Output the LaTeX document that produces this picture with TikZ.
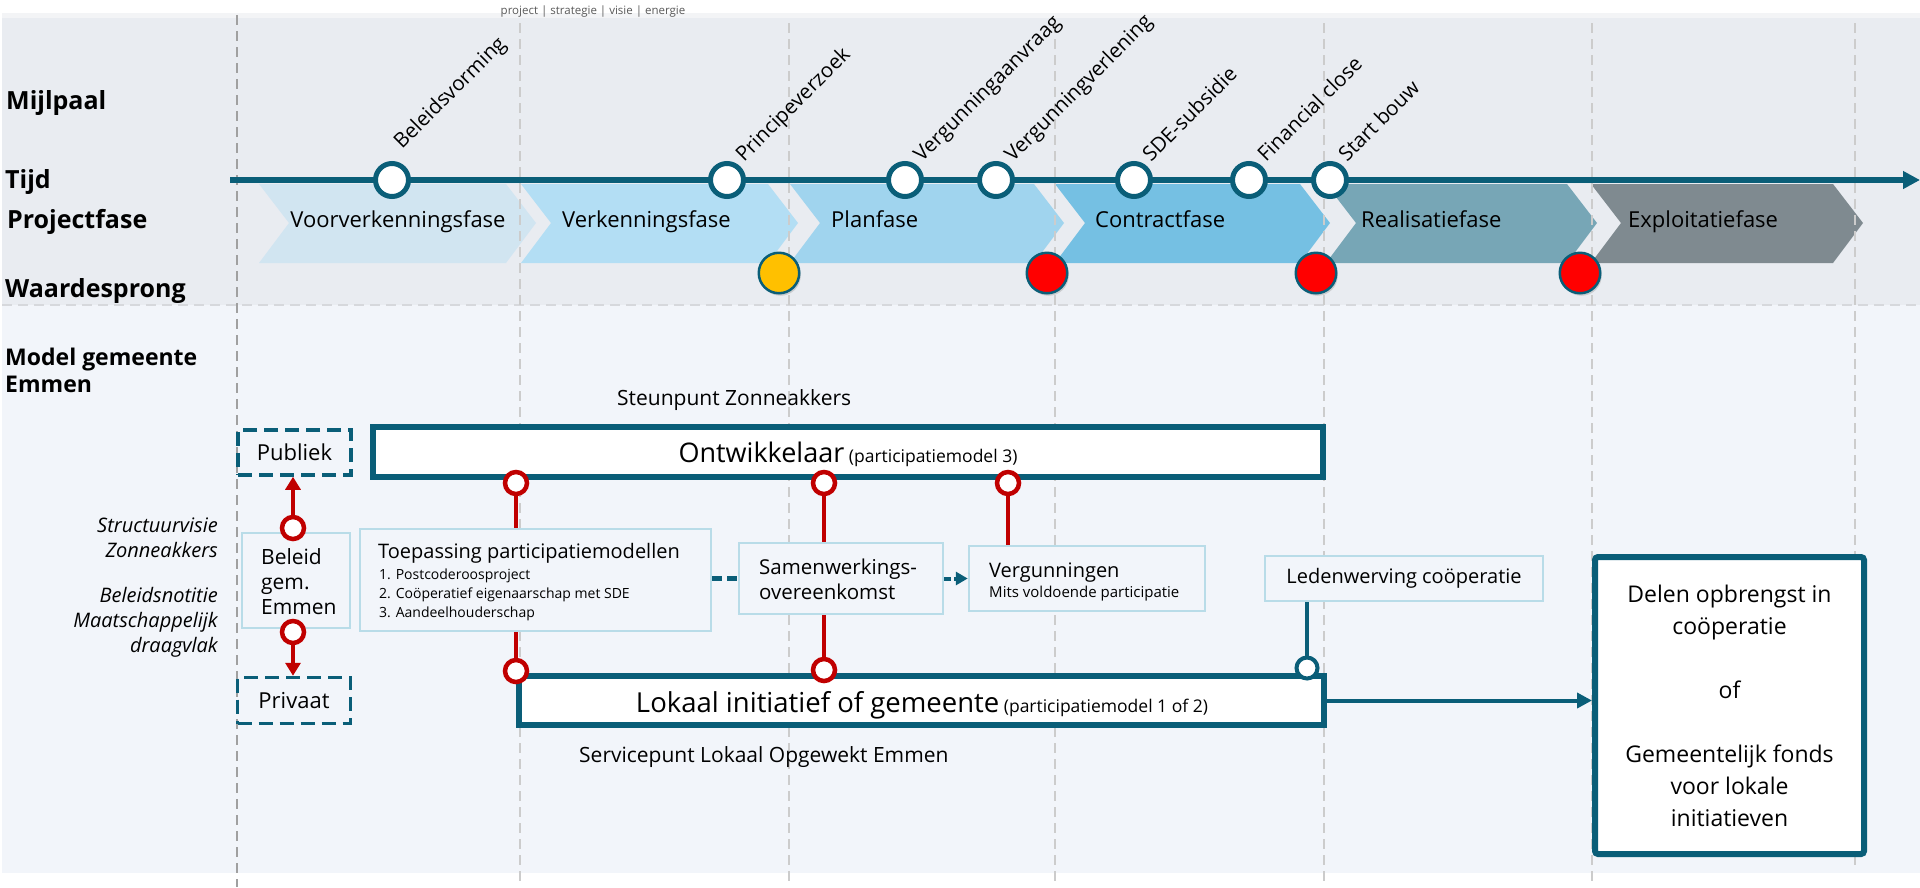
\documentclass[tikz,border=0pt]{standalone}
\usepackage{fontspec}
\setmainfont{Open Sans}
\usetikzlibrary{arrows.meta,shadows,shapes.geometric,calc}

\definecolor{tealc}{RGB}{10,94,120}
\definecolor{redc}{RGB}{192,0,0}
\definecolor{hdrbg}{HTML}{E9ECF1}
\definecolor{lowbg}{HTML}{F2F5FA}
\definecolor{topstrip}{HTML}{F3F4F6}
\definecolor{gridl}{HTML}{CCCCCC}
\definecolor{gridd}{HTML}{A0A0A0}
\definecolor{sepc}{HTML}{D6D8DC}
\definecolor{chA}{HTML}{D1E5F1}
\definecolor{chB}{HTML}{B3DEF4}
\definecolor{chC}{HTML}{A0D4EE}
\definecolor{chD}{HTML}{75C0E3}
\definecolor{chE}{HTML}{77A6B6}
\definecolor{chF}{HTML}{7F8A90}
\definecolor{boxedge}{HTML}{B9DCE8}
\definecolor{wsyel}{HTML}{FFC000}
\definecolor{wsred}{HTML}{FF0000}
\definecolor{smallgrey}{HTML}{595959}

\newcommand\fsz[1]{\fontsize{#1}{#1}\selectfont}

\begin{document}
\begin{tikzpicture}[x=1pt,y=-1pt,
  every node/.style={inner sep=0pt, text=black},
  rowlabel/.style={anchor=base west, font=\fsz{25}\bfseries},
  gridline/.style={draw=gridl, line width=2.5pt, dash pattern=on 10pt off 6pt},
  mscircle/.style={circle, draw=tealc, line width=5pt, fill=white, minimum size=33pt},
  mslabel/.style={anchor=base west, rotate=45, font=\fsz{20.5}},
  phasetxt/.style={anchor=base west, font=\fsz{22}},
  wsdot/.style={circle, draw=tealc, line width=2.5pt, minimum size=40.5pt,
    drop shadow={shadow xshift=1.5pt, shadow yshift=-2.5pt, opacity=0.3}},
  bigbox/.style={draw=tealc, line width=6pt, fill=white},
  lightbox/.style={draw=boxedge, line width=2.5pt, fill=lowbg},
  dashbox/.style={draw=tealc, line width=3.5pt, dash pattern=on 14pt off 7pt, fill=lowbg},
  rring/.style={circle, draw=redc, line width=4.5pt, fill=white, minimum size=22pt},
  tring/.style={circle, draw=tealc, line width=4pt, fill=white, minimum size=21pt},
  redline/.style={draw=redc, line width=3.5pt},
  redarrow/.style={redline, -{Triangle[length=13pt, width=15pt]}},
  itlabel/.style={anchor=base east, font=\fsz{20}\itshape},
  plain/.style={anchor=base west, font=\fsz{20.5}},
]
\useasboundingbox (0,0) rectangle (1920,887);

% backgrounds of the two bands
\fill[white] (0,0) rectangle (1920,887);
\fill[topstrip] (2,13) rectangle (1920,19);
\fill[hdrbg] (2,18) rectangle (1920,305);
\fill[lowbg] (2,305) rectangle (1920,873);
\draw[sepc, line width=2.5pt, dash pattern=on 10pt off 6pt] (2,305) -- (1920,305);

\node[anchor=base, font=\fsz{11.5}, text=smallgrey] (brand) at (593,14) {project | strategie | visie | energie};

% phase chevrons
\foreach \L/\P/\c in {259/536/chA, 521/798/chB, 790/1064/chC, 1055/1330/chD, 1326/1597/chE, 1591/1863/chF}{
  \fill[\c] (\L,184) -- (\P-30,184) -- (\P,223) -- (\P-30,263) -- (\L,263) -- (\L+30,223) -- cycle;
}
\node[phasetxt, anchor=base] (f1) at (398,227) {Voorverkenningsfase};
\node[phasetxt] (f2) at (562,227) {Verkenningsfase};
\node[phasetxt] (f3) at (831,227) {Planfase};
\node[phasetxt] (f4) at (1095,227) {Contractfase};
\node[phasetxt] (f5) at (1361,227) {Realisatiefase};
\node[phasetxt] (f6) at (1628,227) {Exploitatiefase};

% vertical time grid
\draw[gridline, draw=gridd] (237,15) -- (237,887);
\foreach \x in {520,789,1055,1324,1592}{
  \draw[gridline] (\x,23) -- (\x,887);
}
\draw[gridline] (1855,23) -- (1855,870);

% row headings
\node[rowlabel] (hMijl) at (6,109) {Mijlpaal};
\node[rowlabel] (hTijd) at (5,188) {Tijd};
\node[rowlabel] (hProj) at (7,228) {Projectfase};
\node[rowlabel] (hWaar) at (5,297) {Waardesprong};
\node[rowlabel, font=\fsz{23}\bfseries] (hModelA) at (5,365) {Model gemeente};
\node[rowlabel, font=\fsz{23}\bfseries] (hModelB) at (5,392) {Emmen};

% time axis with milestones
\coordinate (tl0) at (230,180);
\coordinate (tl1) at (1920,180);
\draw[tealc, line width=5.5pt, -{Triangle[length=17pt, width=17pt]}] (tl0) -- (tl1);

\node[mscircle] (m1) at (392,180) {};
\node[mscircle] (m2) at (727,180) {};
\node[mscircle] (m3) at (905,180) {};
\node[mscircle] (m4) at (996,180) {};
\node[mscircle] (m5) at (1134,180) {};
\node[mscircle] (m6) at (1249,180) {};
\node[mscircle] (m7) at (1330,180) {};

\node[mslabel] (l1) at (402,150) {Beleidsvorming};
\node[mslabel] (l2) at ($(m2)+(17,-17)$) {Principeverzoek};
\node[mslabel] (l3) at ($(m3)+(17,-17)$) {Vergunningaanvraag};
\node[mslabel] (l4) at ($(m4)+(17,-17)$) {Vergunningverlening};
\node[mslabel] (l5) at ($(m5)+(17,-17)$) {SDE-subsidie};
\node[mslabel] (l6) at ($(m6)+(17,-17)$) {Financial close};
\node[mslabel] (l7) at ($(m7)+(17,-17)$) {Start bouw};

% value jumps
\node[wsdot, fill=wsyel] (w1) at (779,273) {};
\node[wsdot, fill=wsred] (w2) at (1047,273) {};
\node[wsdot, fill=wsred] (w3) at (1316,273) {};
\node[wsdot, fill=wsred] (w4) at (1580,273) {};

% model of the municipality
\node[anchor=base west, font=\fsz{21}] (steun) at (617,405) {Steunpunt Zonneakkers};
\node[bigbox, minimum width=950pt, minimum height=50pt] (ontw) at (848,452) {};
\node[anchor=base] (ontwtxt) at (848,462) {\fsz{27}Ontwikkelaar\fsz{17.5} (participatiemodel 3)};

\node[bigbox, minimum width=805pt, minimum height=49pt] (lok) at (921.5,700.5) {};
\node[anchor=base] (loktxt) at (922,712) {\fsz{27.5}Lokaal initiatief of gemeente\fsz{17.5} (participatiemodel 1 of 2)};
\node[anchor=base west, font=\fsz{21}] (serv) at (579,762) {Servicepunt Lokaal Opgewekt Emmen};

\node[dashbox, minimum width=113pt, minimum height=45pt, font=\fsz{22}] (pub) at (294.5,452.5) {Publiek};
\node[dashbox, minimum width=113pt, minimum height=46pt, font=\fsz{22}] (priv) at (294,700.5) {Privaat};

\node[lightbox, minimum width=108pt, minimum height=95pt] (bel) at (296,580.5) {};
\node[plain, font=\fsz{21}] (belA) at (261,564) {Beleid};
\node[plain, font=\fsz{21}] (belB) at (261,589) {gem.};
\node[plain, font=\fsz{21}] (belC) at (261,614) {Emmen};

\node[itlabel] (itA) at (218,532) {Structuurvisie};
\node[itlabel] (itB) at (218,557) {Zonneakkers};
\node[itlabel] (itC) at (218,602) {Beleidsnotitie};
\node[itlabel] (itD) at (218,627) {Maatschappelijk};
\node[itlabel] (itE) at (218,652) {draagvlak};

\node[lightbox, minimum width=351pt, minimum height=102pt] (toep) at (535.5,580) {};
\node[plain, font=\fsz{20}] (toepT) at (378,558) {Toepassing participatiemodellen};
\node[plain, font=\fsz{14}] (toep1) at (379,579.5) {1. Postcoderoosproject};
\node[plain, font=\fsz{14}] (toep2) at (379,598) {2. Coöperatief eigenaarschap met SDE};
\node[plain, font=\fsz{14}] (toep3) at (379,617) {3. Aandeelhouderschap};

\node[lightbox, minimum width=204pt, minimum height=71pt] (samen) at (841,578.5) {};
\node[plain] (samenA) at (759,574) {Samenwerkings-};
\node[plain] (samenB) at (759,599) {overeenkomst};

\node[lightbox, minimum width=236pt, minimum height=65pt] (verg) at (1087,578.5) {};
\node[plain, font=\fsz{20}] (vergA) at (989,577) {Vergunningen};
\node[plain, font=\fsz{15}] (vergB) at (989,597) {Mits voldoende participatie};

\node[lightbox, minimum width=278pt, minimum height=45pt, font=\fsz{20}] (leden) at (1404,578.5) {Ledenwerving coöperatie};

\node[bigbox, rounded corners=3pt, minimum width=269pt, minimum height=297pt, align=center,
  font=\fontsize{23}{32}\selectfont] (delen) at (1729.5,705.5)
  {Delen opbrengst in\\coöperatie\\[32pt]of\\[32pt]Gemeentelijk fonds\\voor lokale\\initiatieven};

% participation rings
\node[rring] (r1) at (516,483) {};
\node[rring] (r2) at (824,483) {};
\node[rring] (r3) at (1008,483) {};
\node[rring] (r4) at (516,671) {};
\node[rring] (r5) at (824,670) {};
\node[rring] (r6) at (293,528) {};
\node[rring] (r7) at (293,632) {};
\node[tring] (t1) at (1307,668) {};

% connectors
\draw[redline] (r1.south) -- (r1.south |- toep.north);
\draw[redline] (r4.north |- toep.south) -- (r4.north);
\draw[redline] (r2.south) -- (r2.south |- samen.north);
\draw[redline] (r5.north |- samen.south) -- (r5.north);
\draw[redline] (r3.south) -- (r3.south |- verg.north);
\draw[redarrow] (r6.north) -- (r6.north |- pub.south);
\draw[redarrow] (r7.south) -- (r7.south |- priv.north);
\draw[tealc, line width=3.5pt] (t1.north |- leden.south) -- (t1.north);
\draw[tealc, line width=5pt, dash pattern=on 10pt off 5pt] (samen.west -| toep.east) -- (samen.west);
\draw[tealc, line width=4pt, dash pattern=on 7pt off 3pt, -{Triangle[length=12pt, width=13pt]}] (samen.east) -- (verg.west);
\draw[tealc, line width=4pt, -{Triangle[length=15pt, width=15pt]}] (lok.east) -- (lok.east -| delen.west);
\end{tikzpicture}
\end{document}
